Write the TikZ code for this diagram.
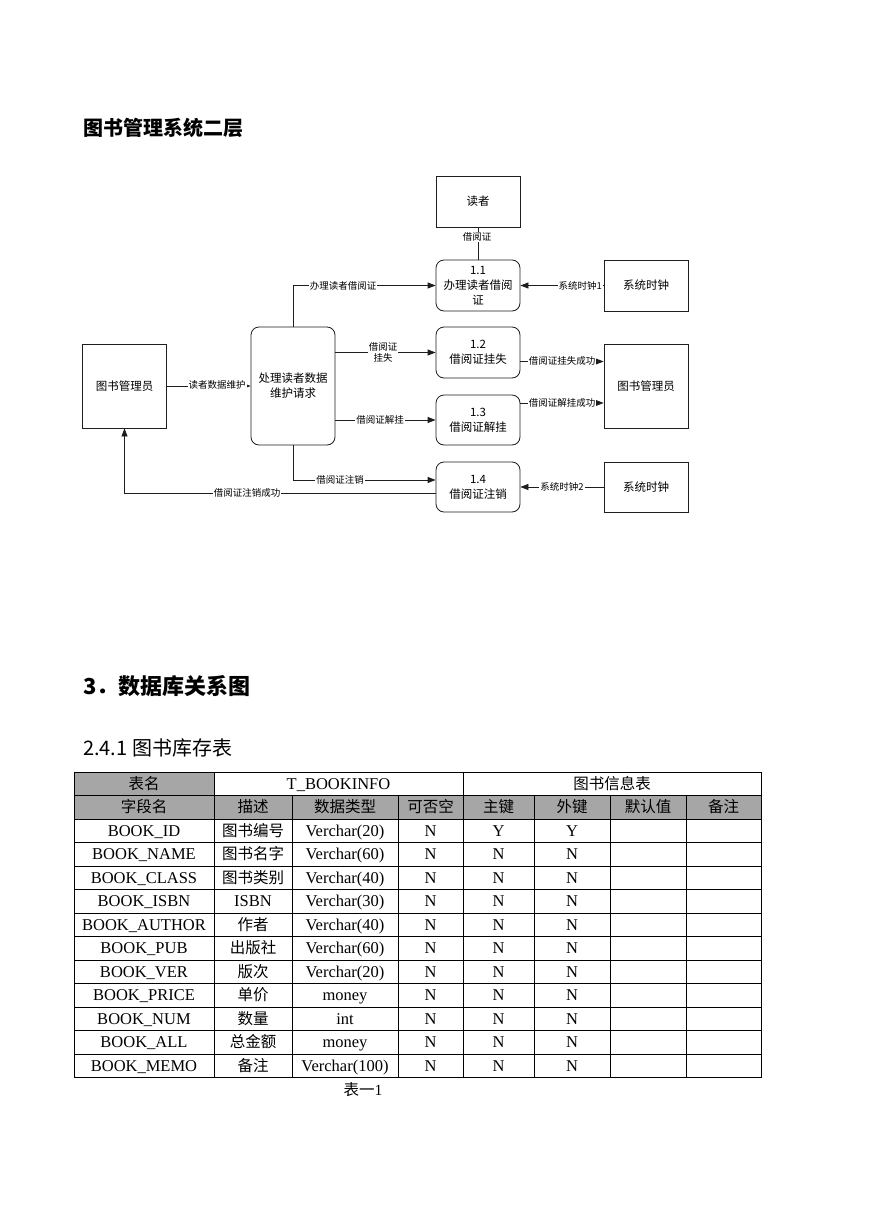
\documentclass[tikz,border=0pt]{standalone}
\usepackage{fontspec}
\setmainfont{Liberation Serif}
\newfontfamily\cjk{Noto Sans CJK SC}
\usetikzlibrary{arrows.meta, positioning, calc}
\definecolor{hdrgray}{HTML}{A6A6A6}
\definecolor{inkline}{HTML}{1E1E1E}
\newcommand{\fsz}[2]{\fontsize{#1}{#2}\selectfont}

\begin{document}
\begin{tikzpicture}[
    x=1pt, y=-1pt,
    >={Triangle[length=8pt, width=6pt]},
    box/.style={
      draw=inkline, line width=0.8pt, minimum width=84pt, minimum height=51pt,
      inner sep=1pt, align=center, font=\cjk\fsz{11.5}{15}
    },
    procbox/.style={box, rounded corners=8pt},
    flow/.style={->, line width=0.8pt, inkline},
    lbl/.style={fill=white, inner sep=1pt, align=center, font=\cjk\fsz{9.5}{11}},
    cell/.style={inner sep=0pt, text height=13pt, text depth=2pt, font=\fsz{16.5}{19}},
    ccell/.style={cell, font=\cjk\fsz{15.5}{18}},
    heading/.style={anchor=west, inner sep=0pt}
  ]

  % Page
  \fill[white] (0,0) rectangle (869,1228);

  % Titres
  \node[heading, font=\cjk\bfseries\fsz{20}{24}] (title)  at (83,128) {图书管理系统二层};
  \node[heading, font=\cjk\bfseries\fsz{22}{26}] (secDb)  at (83,686) {3．数据库关系图};
  \node[heading, font=\cjk\fsz{20}{24}]          (subTbl) at (83,748) {2.4.1 图书库存表};

  % Entites et processus
  \node[box]                           (reader) at (478,201.5) {读者};
  \node[procbox]                       (p11)    at (478,285.5) {1.1\\办理读者借阅\\证};
  \node[box]                           (clk1)   at (646,285.5) {系统时钟};
  \node[box, minimum height=84pt]      (mgrL)   at (124.5,386) {图书管理员};
  \node[procbox, minimum height=118pt] (proc)   at (293,386)   {处理读者数据\\维护请求};
  \node[procbox]                       (p12)    at (478,352.5) {1.2\\借阅证挂失};
  \node[procbox, minimum height=50pt]  (p13)    at (478,420)   {1.3\\借阅证解挂};
  \node[box, minimum height=84pt]      (mgrR)   at (646,386)   {图书管理员};
  \node[procbox, minimum height=50pt]  (p14)    at (478,487)   {1.4\\借阅证注销};
  \node[box, minimum height=50pt]      (clk2)   at (646,487)   {系统时钟};

  % Points d'attache decales
  \coordinate (o12) at ([yshift=-9pt]p12.east);
  \coordinate (o13) at ([yshift=17pt]p13.east);
  \coordinate (i14) at ([yshift=7pt]p14.west);
  \coordinate (o14) at ([yshift=-6pt]p14.west);

  % Flux
  \draw[line width=0.8pt, inkline] (reader) -- (p11);
  \draw[flow] (proc.north) |- (p11.west);
  \draw[flow] (clk1) -- (p11);
  \draw[flow] (mgrL) -- (proc);
  \draw[flow] (proc.east |- p12) -- (p12);
  \draw[flow] (proc.east |- p13) -- (p13);
  \draw[flow] (o12) -- (o12 -| mgrR.west);
  \draw[flow] (o13) -- (o13 -| mgrR.west);
  \draw[flow] (proc.south) |- (i14);
  \draw[flow] (clk2) -- (p14);
  \draw[flow] (o14) -| (mgrL.south);

  % Etiquettes des flux
  \node[lbl] (lCard)   at (477,237) {借阅证};
  \node[lbl] (lApply)  at (343,286) {办理读者借阅证};
  \node[lbl, anchor=east] (lClk1) at (603,286) {系统时钟1};
  \node[lbl] (lMaint)  at (217,385) {读者数据维护};
  \node[lbl] (lLose)   at (383,352) {借阅证\\挂失};
  \node[lbl] (lFind)   at (380,420) {借阅证解挂};
  \node[lbl] (lLoseOk) at (562,361) {借阅证挂失成功};
  \node[lbl] (lFindOk) at (562,403) {借阅证解挂成功};
  \node[lbl] (lCancel) at (340,480) {借阅证注销};
  \node[lbl] (lClk2)   at (562,487) {系统时钟2};
  \node[lbl] (lCancelOk) at (247,493) {借阅证注销成功};

  % Tableau : fonds gris
  \fill[hdrgray] (74,772) rectangle (214,795.5);
  \fill[hdrgray] (74,795.5) rectangle (761,819);

  % Tableau : grille
  \foreach \k in {0,...,13}
    \draw[line width=0.8pt] (74,{772+23.5*\k}) -- (761,{772+23.5*\k});
  \foreach \x in {74,214,463,761}
    \draw[line width=0.8pt] (\x,772) -- (\x,1077.5);
  \foreach \x in {292,398,534,610,686}
    \draw[line width=0.8pt] (\x,795.5) -- (\x,1077.5);

  % Tableau : en-tetes
  \node[ccell] (hName)  at (144,784)   {表名};
  \node[cell]  (hTable) at (338.5,784) {T\_BOOKINFO};
  \node[ccell] (hInfo)  at (612,784)   {图书信息表};
  \foreach \cx/\txt [count=\ci] in {144/字段名, 253/描述, 345/数据类型, 430.5/可否空,
                                    498.5/主键, 572/外键, 648/默认值, 723.5/备注}
    \node[ccell] (hCol\ci) at (\cx,807.25) {\txt};

  % Tableau : lignes
  \foreach \fld/\desc/\dtype/\nul/\pkey/\fkey [count=\rw] in {
      BOOK\_ID/{\cjk\fsz{15.5}{18}图书编号}/Verchar(20)/N/Y/Y,
      BOOK\_NAME/{\cjk\fsz{15.5}{18}图书名字}/Verchar(60)/N/N/N,
      BOOK\_CLASS/{\cjk\fsz{15.5}{18}图书类别}/Verchar(40)/N/N/N,
      BOOK\_ISBN/ISBN/Verchar(30)/N/N/N,
      BOOK\_AUTHOR/{\cjk\fsz{15.5}{18}作者}/Verchar(40)/N/N/N,
      BOOK\_PUB/{\cjk\fsz{15.5}{18}出版社}/Verchar(60)/N/N/N,
      BOOK\_VER/{\cjk\fsz{15.5}{18}版次}/Verchar(20)/N/N/N,
      BOOK\_PRICE/{\cjk\fsz{15.5}{18}单价}/money/N/N/N,
      BOOK\_NUM/{\cjk\fsz{15.5}{18}数量}/int/N/N/N,
      BOOK\_ALL/{\cjk\fsz{15.5}{18}总金额}/money/N/N/N,
      BOOK\_MEMO/{\cjk\fsz{15.5}{18}备注}/Verchar(100)/N/N/N}
  {
    \pgfmathsetmacro\yc{819+23.5*(\rw-1)+11.75}
    \node[cell] (fld\rw)  at (144,\yc)   {\fld};
    \node[cell] (desc\rw) at (253,\yc)   {\desc};
    \node[cell] (typ\rw)  at (345,\yc)   {\dtype};
    \node[cell] (nul\rw)  at (430.5,\yc) {\nul};
    \node[cell] (pk\rw)   at (498.5,\yc) {\pkey};
    \node[cell] (fk\rw)   at (572,\yc)   {\fkey};
  }

  % Legende du tableau
  \node[cell, font=\fsz{15.5}{18}] (caption) at (363,1090) {{\cjk 表一}1};

\end{tikzpicture}
\end{document}
